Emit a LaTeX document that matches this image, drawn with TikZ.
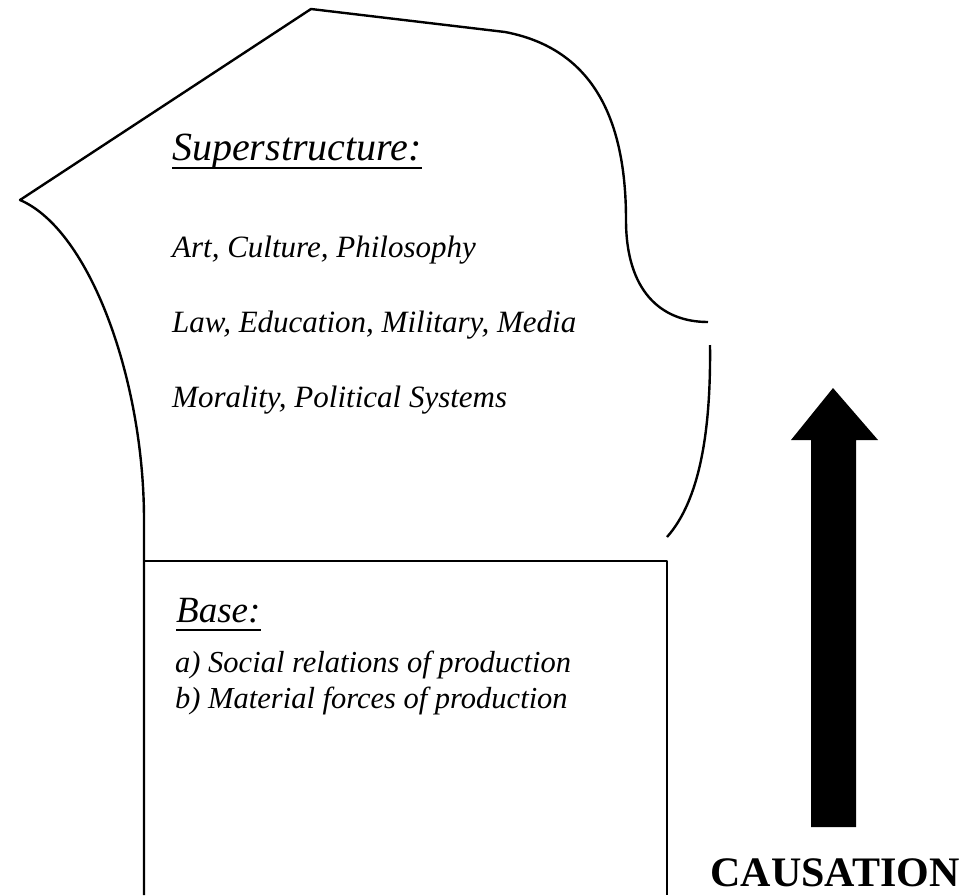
\documentclass[tikz,border=0pt]{standalone}
\usepackage{fontspec}
\setmainfont{Liberation Serif}
\begin{document}
\begin{tikzpicture}[x=1pt,y=-1pt,
    outline/.style={line width=2.4pt,line join=round},
    txt/.style={anchor=base west,inner sep=0pt,font=\fontsize{31}{34}\selectfont\itshape},
    title/.style={anchor=base west,inner sep=0pt,font=\fontsize{40}{42}\selectfont\itshape},
    item/.style={anchor=base west,inner sep=0pt,font=\fontsize{30.5}{32}\selectfont\itshape},
    uline/.style={line width=2.6pt}]
\useasboundingbox (0,0) rectangle (969,895);
% superstructure outline
\draw[outline] (144,895) -- (144,520)
    .. controls (144,380) and (90,230) .. (20,200)
    -- (311,9) -- (505,32)
    .. controls (600,50) and (626,130) .. (626,220)
    .. controls (626,290) and (660,322) .. (708,322);
\draw[outline] (710,345) .. controls (711,430) and (700,500) .. (667,537);
% base box
\draw[outline] (144,561) -- (667,561) -- (667,895);
\node[title] (sup) at (172,160) {Superstructure:};
\draw[uline] ([yshift=-8pt]sup.base west) -- ([yshift=-8pt]sup.base east);
\node[txt] (art) at (172,257) {Art, Culture, Philosophy};
\node[txt] (law) at (172,332) {Law, Education, Military, Media};
\node[txt] (mor) at (172,407) {Morality, Political Systems};
\node[title,font=\fontsize{37}{40}\selectfont\itshape] (base) at (176,622) {Base:};
\draw[uline] ([yshift=-8pt]base.base west) -- ([yshift=-8pt]base.base east);
\node[item] (soc) at (175,672) {a) Social relations of production};
\node[item] (mat) at (175,708) {b) Material forces of production};
% arrow
\fill (833,388) -- (878,440) -- (856,440) -- (856,827) -- (811,827)
    -- (811,440) -- (791,440) -- cycle;
\node[anchor=base,inner sep=0pt,font=\fontsize{42}{44}\selectfont\bfseries] (cause) at (835,886) {CAUSATION};
\end{tikzpicture}
\end{document}
